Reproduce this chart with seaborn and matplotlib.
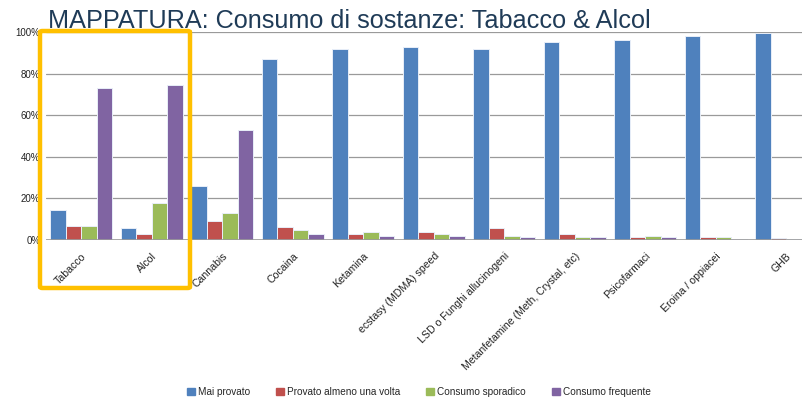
import matplotlib
matplotlib.use("Agg")
import matplotlib.pyplot as plt
import matplotlib.patches as mpatches
import pandas as pd
import seaborn as sns

# ── data ────────────────────────────────────
categories = [
    "Tabacco", "Alcol", "Cannabis", "Cocaina", "Ketamina",
    "ecstasy (MDMA) speed", "LSD o Funghi allucinogeni",
    "Metanfetamine (Meth, Crystal, etc)", "Psicofarmaci",
    "Eroina / oppiacei", "GHB",
]
series = ["Mai provato", "Provato almeno una volta", "Consumo sporadico", "Consumo frequente"]

mai_provato = [14.3, 6.0, 26.0, 87.0, 92.0, 92.8, 91.7, 95.4, 96.3, 98.0, 99.7]
provato_una_volta = [6.9, 3.1, 9.3, 6.1, 3.1, 3.7, 6.0, 2.7, 1.3, 1.3, 0.8]
consumo_sporadico = [6.6, 17.8, 13.2, 5.0, 4.0, 2.7, 2.1, 1.6, 2.1, 1.3, 0.3]
consumo_frequente = [73.3, 74.4, 52.9, 2.7, 1.8, 1.8, 1.3, 1.3, 1.3, 0.6, 0.1]

yticks = [0, 20, 40, 60, 80, 100]
colors = ["#4F81BD", "#C0504D", "#9BBB59", "#8064A2"]

rows = []
for name, vals in zip(series, [mai_provato, provato_una_volta, consumo_sporadico, consumo_frequente]):
    for cat, v in zip(categories, vals):
        rows.append({"Sostanza": cat, "Serie": name, "Valore": v})
df = pd.DataFrame(rows)

# ── plot ────────────────────────────────────
sns.set_style("white")
plt.rcParams["font.family"] = ["Liberation Sans", "DejaVu Sans"]

fig = plt.figure(figsize=(8.03, 4.01), dpi=100)
# category pitch ~70.5 px, first group centred at x=81.5; chart is cut at the right edge
ax = fig.add_axes([46 / 803, 1 - 240 / 401, 757 / 803, 208 / 401])

sns.barplot(
    data=df, x="Sostanza", y="Valore", hue="Serie",
    palette=colors, saturation=1, width=0.88, edgecolor="#e8eef8", linewidth=0.7,
    ax=ax, legend=False,
)

ax.set_ylim(0, 100)
ax.set_xlim(-0.5, -0.5 + 757 / 70.5)
ax.set_yticks(yticks)
ax.set_yticklabels([f"{t}%" for t in yticks], fontsize=7, color="#222222")
ax.set_xlabel("")
ax.set_ylabel("")
ax.tick_params(axis="y", length=0, pad=4)
ax.tick_params(axis="x", length=0, pad=8)
ax.set_xticks(range(len(categories)))
ax.set_xticklabels(categories, rotation=45, ha="right", rotation_mode="anchor",
                   fontsize=7.6, color="#222222")

# gridlines
for t in yticks[1:]:
    ax.axhline(t, color="#9a9a9a", lw=0.9, zorder=0)
ax.axhline(0, color="#9a9a9a", lw=1.2, zorder=3)
for s in ax.spines.values():
    s.set_visible(False)

fig.text(48 / 803, 1 - 28 / 401, "MAPPATURA: Consumo di sostanze: Tabacco & Alcol",
         fontsize=18.2, color="#1F3B57", va="baseline")

# highlight box around Tabacco & Alcol
fig.add_artist(mpatches.FancyBboxPatch(
    (40 / 803, 1 - 288 / 401), 150 / 803, 257 / 401,
    boxstyle="round,pad=0,rounding_size=0.003",
    transform=fig.transFigure, fill=False, edgecolor="#FFC000", lw=3.2, zorder=10,
))

handles = [mpatches.Patch(color=c, label=s) for c, s in zip(colors, series)]
fig.legend(handles=handles, loc="center", bbox_to_anchor=(419 / 803, 1 - 392 / 401),
           ncol=4, frameon=False, fontsize=7.2, handlelength=0.8, handleheight=0.8,
           handletextpad=0.3, columnspacing=2.6)

plt.savefig("out.png", dpi=100)
plt.close()
